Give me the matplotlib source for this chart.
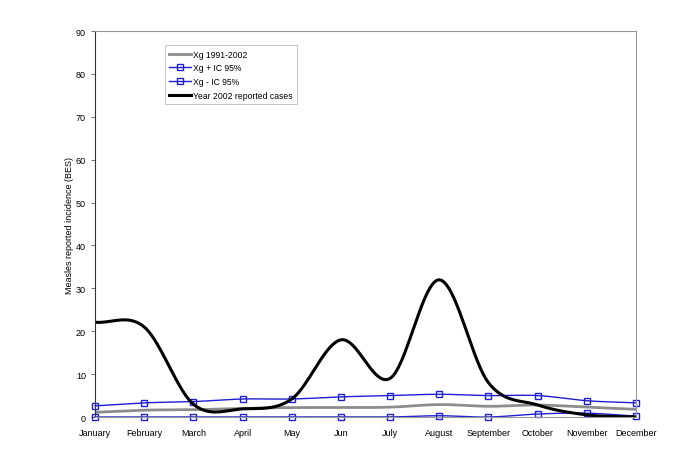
import numpy as np
import matplotlib.pyplot as plt

plt.rcParams['font.family'] = ['Liberation Sans', 'DejaVu Sans']

# données
mois = ['January', 'February', 'March', 'April', 'May', 'Jun', 'July',
        'August', 'September', 'October', 'November', 'December']
xg_moy = [1.1, 1.6, 1.7, 2.0, 2.2, 2.2, 2.3, 2.9, 2.5, 2.8, 2.3, 1.8]
xg_sup = [2.6, 3.3, 3.6, 4.2, 4.2, 4.7, 5.0, 5.3, 5.0, 5.0, 3.8, 3.3]
xg_inf = [0.0, 0.0, 0.0, 0.0, 0.0, 0.0, 0.0, 0.3, 0.0, 0.7, 0.9, 0.2]
cas_2002 = [22.1, 21.0, 3.0, 1.9, 4.2, 18.0, 9.0, 32.0, 8.0, 2.8, 0.5, 0.0]

N = 20  # points par segment pour le lissage


def lisse(y):
    # courbe lissée type Excel (Catmull-Rom)
    y = np.asarray(y, dtype=float)
    x = np.arange(len(y), dtype=float)
    p = np.concatenate([[2 * y[0] - y[1]], y, [2 * y[-1] - y[-2]]])
    xs, ys = [], []
    t = np.linspace(0, 1, N, endpoint=False)
    for i in range(len(y) - 1):
        p0, p1, p2, p3 = p[i], p[i + 1], p[i + 2], p[i + 3]
        yy = 0.5 * ((2 * p1) + (-p0 + p2) * t + (2 * p0 - 5 * p1 + 4 * p2 - p3) * t ** 2
                    + (-p0 + 3 * p1 - 3 * p2 + p3) * t ** 3)
        xs.extend(x[i] + t)
        ys.extend(yy)
    xs.append(x[-1])
    ys.append(y[-1])
    return np.array(xs), np.array(ys)


fig = plt.figure(figsize=(6.85, 4.64), dpi=100)
ax = fig.add_axes([0.1387, 0.0991, 0.7898, 0.8319])

x, y = lisse(xg_moy)
ax.plot(x, y, color='#8c8c8c', lw=2, label='Xg 1991-2002')
x, y = lisse(xg_sup)
ax.plot(x, y, color='#1f1fd6', lw=1, marker='s', markevery=N, ms=5,
        mfc='none', mec='#1f1fd6', mew=1, label='Xg + IC 95%', clip_on=False)
x, y = lisse(xg_inf)
ax.plot(x, y, color='#1f1fd6', lw=1, marker='s', markevery=N, ms=5,
        mfc='none', mec='#1f1fd6', mew=1, label='Xg - IC 95%', clip_on=False)
x, y = lisse(cas_2002)
ax.plot(x, y, color='black', lw=2.2, label='Year 2002 reported cases')

ax.set_xlim(0, 11)
ax.set_ylim(0, 90)
ax.set_yticks(range(0, 91, 10))
ax.set_xticks(range(len(mois)))
ax.set_xticklabels(mois, fontsize=6.5)
ax.tick_params(axis='y', labelsize=6.5, length=3, width=0.6, color='#555555')
ax.tick_params(axis='x', length=0, pad=8)
ax.set_ylabel('Measles reported incidence (BES)', fontsize=6.5, labelpad=1)

for s in ['top', 'right', 'bottom']:
    ax.spines[s].set_color('#999999')
    ax.spines[s].set_linewidth(0.8)
ax.spines['left'].set_color('#333333')
ax.spines['left'].set_linewidth(0.8)

leg = ax.legend(loc='upper left', bbox_to_anchor=(0.129, 0.963), fontsize=6.2,
                frameon=True, fancybox=False, edgecolor='#aaaaaa',
                handlelength=2.6, handletextpad=0.2, borderpad=0.5,
                labelspacing=0.55, borderaxespad=0)
leg.get_frame().set_linewidth(0.6)

plt.savefig('out.png', dpi=100)
plt.close()
